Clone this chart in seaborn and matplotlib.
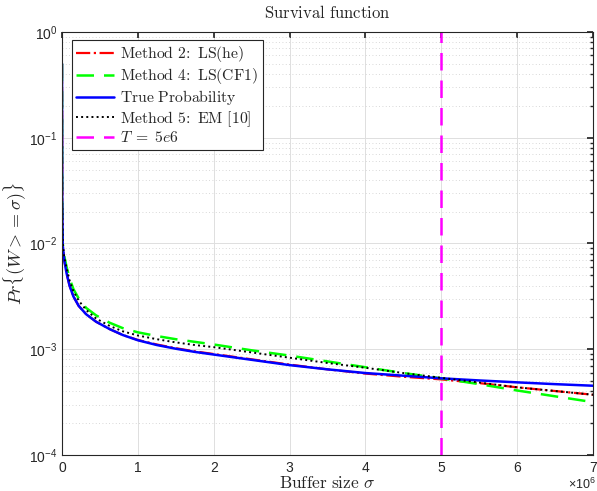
import numpy as np
import pandas as pd
import matplotlib
matplotlib.use("Agg")
import matplotlib.pyplot as plt
import seaborn as sns
from matplotlib.font_manager import FontProperties
from matplotlib.ticker import LogLocator, NullFormatter, FixedLocator

# ---- data (sigma in units of 1e6, values as log10 probability) ----
sigma_true = [0, 0.003, 0.01, 0.03, 0.06, 0.1, 0.15, 0.22, 0.32, 0.45, 0.63, 0.8, 1.0, 1.25, 1.5, 1.75, 2.0, 2.5, 3.0, 3.5, 4.0, 4.5, 5.0, 5.5, 6.0, 6.5, 7.0]
log_true   = [-0.30, -1.6, -2.02, -2.16, -2.28, -2.40, -2.50, -2.59, -2.67, -2.74, -2.81, -2.865, -2.915, -2.96, -2.995, -3.025, -3.05, -3.10, -3.15, -3.19, -3.225, -3.25, -3.275, -3.295, -3.313, -3.33, -3.345]

sigma_m2 = [0, 0.003, 0.01, 0.03, 0.06, 0.1, 0.15, 0.22, 0.32, 0.45, 0.63, 0.8, 1.0, 1.25, 1.5, 1.75, 2.0, 2.5, 3.0, 3.5, 4.0, 4.5, 5.0, 5.5, 6.0, 6.5, 7.0]
log_m2   = [-0.30, -1.6, -2.02, -2.16, -2.28, -2.40, -2.50, -2.59, -2.67, -2.74, -2.81, -2.865, -2.912, -2.955, -2.99, -3.02, -3.045, -3.095, -3.145, -3.19, -3.23, -3.26, -3.285, -3.32, -3.36, -3.395, -3.43]

sigma_m4 = [0, 0.003, 0.01, 0.03, 0.06, 0.1, 0.15, 0.22, 0.32, 0.45, 0.63, 0.8, 1.0, 1.25, 1.5, 1.75, 2.0, 2.5, 3.0, 3.5, 4.0, 4.5, 5.0, 5.5, 6.0, 6.5, 7.0]
log_m4   = [-0.30, -1.6, -2.0, -2.12, -2.22, -2.33, -2.43, -2.52, -2.61, -2.68, -2.75, -2.80, -2.84, -2.875, -2.905, -2.93, -2.955, -3.01, -3.06, -3.115, -3.17, -3.225, -3.275, -3.33, -3.39, -3.445, -3.50]

sigma_m5 = [0, 0.003, 0.01, 0.03, 0.06, 0.1, 0.15, 0.22, 0.32, 0.45, 0.63, 0.8, 1.0, 1.25, 1.5, 1.75, 2.0, 2.5, 3.0, 3.5, 4.0, 4.5, 5.0, 5.5, 6.0, 6.5, 7.0]
log_m5   = [-0.30, -1.6, -2.0, -2.13, -2.23, -2.35, -2.45, -2.54, -2.63, -2.71, -2.78, -2.83, -2.87, -2.905, -2.935, -2.96, -2.98, -3.03, -3.08, -3.13, -3.175, -3.225, -3.27, -3.315, -3.36, -3.395, -3.43]

T_line = 5.0
labels = [r"$\mathrm{Method\ 2\!:\ LS(he)}$", r"$\mathrm{Method\ 4\!:\ LS(CF1)}$",
          r"$\mathrm{True\ Probability}$", r"$\mathrm{Method\ 5\!:\ EM\ [10]}$", r"$T\;=\;5e6$"]

# ---- style ----
sns.set_theme(style="white")
plt.rcParams["font.family"] = ["Liberation Sans", "DejaVu Sans"]
plt.rcParams["mathtext.fontset"] = "custom"
plt.rcParams["mathtext.rm"] = "Liberation Sans"
plt.rcParams["mathtext.it"] = "Liberation Sans:italic"
plt.rcParams["mathtext.bf"] = "Liberation Sans:bold"

fig = plt.figure(figsize=(5.97, 4.91), dpi=100)
ax = fig.add_axes([62/597, (491-455)/491, (593-62)/597, (455-32)/491])

def p(l):
    return 10 ** np.array(l)

sns.lineplot(x=sigma_m2, y=p(log_m2), ax=ax, color=(1, 0, 0), linestyle="-.", linewidth=1.6, label=labels[0], estimator=None, sort=False)
sns.lineplot(x=sigma_m4, y=p(log_m4), ax=ax, color=(0, 1, 0), linewidth=1.8, label=labels[1], estimator=None, sort=False)
ax.lines[-1].set_dashes([7, 4])
sns.lineplot(x=sigma_true, y=p(log_true), ax=ax, color=(0, 0, 1), linestyle="-", linewidth=1.8, label=labels[2], estimator=None, sort=False)
sns.lineplot(x=sigma_m5, y=p(log_m5), ax=ax, color="black", linestyle=":", linewidth=1.4, label=labels[3], estimator=None, sort=False)
ax.axvline(T_line, color=(1, 0, 1), linewidth=1.8, dashes=[7, 4], label=labels[4])

ax.set_yscale("log")
ax.set_xlim(0, 7)
ax.set_ylim(1e-4, 1)
ax.xaxis.set_major_locator(FixedLocator([0, 1, 2, 3, 4, 5, 6, 7]))
ax.set_xticklabels([str(i) for i in range(8)])
ax.yaxis.set_major_locator(LogLocator(base=10, numticks=10))
ax.yaxis.set_minor_locator(LogLocator(base=10, subs=np.arange(2, 10), numticks=20))
ax.yaxis.set_minor_formatter(NullFormatter())

edge = (0.15, 0.15, 0.15)
for s in ax.spines.values():
    s.set_visible(True)
    s.set_color(edge)
    s.set_linewidth(0.8)
ax.tick_params(which="both", direction="in", top=True, right=True, colors=edge, labelsize=10, labelcolor=(0.15, 0.15, 0.15))
ax.tick_params(which="major", length=4)
ax.tick_params(which="minor", length=2.5)
ax.tick_params(axis="x", which="minor", bottom=False, top=False)
ax.tick_params(axis="x", pad=4)
ax.grid(True, which="major", color=(0.87, 0.87, 0.87), linewidth=0.7, linestyle="-")
ax.grid(True, which="minor", axis="y", color=(0.8, 0.8, 0.8), linewidth=0.6, linestyle=(0, (1, 3)))
ax.set_axisbelow(True)

ax.set_title(r"$\mathrm{Survival\ function}$", pad=10, fontproperties=FontProperties(size=12, math_fontfamily="cm"))
ax.set_xlabel(r"$\mathrm{Buffer\ size}\ \sigma$", fontproperties=FontProperties(size=12.5, math_fontfamily="cm"), labelpad=0)
ax.set_ylabel(r"$Pr\{(W >= \sigma)\}$", fontproperties=FontProperties(size=13, math_fontfamily="cm"))
ax.yaxis.set_label_coords(-0.064, 0.5)
ax.text(1.005, -0.052, r"$\times10^{6}$", transform=ax.transAxes, ha="right", va="top", fontsize=9, color=(0.15, 0.15, 0.15))

leg = ax.legend(loc="upper left", bbox_to_anchor=(0.018, 0.982), prop=FontProperties(size=11.3, math_fontfamily="cm"),
                fancybox=False, framealpha=1, edgecolor=edge, handlelength=2.4, handletextpad=0.4,
                borderpad=0.3, labelspacing=0.12, borderaxespad=0)
leg.get_frame().set_linewidth(0.8)

fig.savefig("out.png", dpi=100)
